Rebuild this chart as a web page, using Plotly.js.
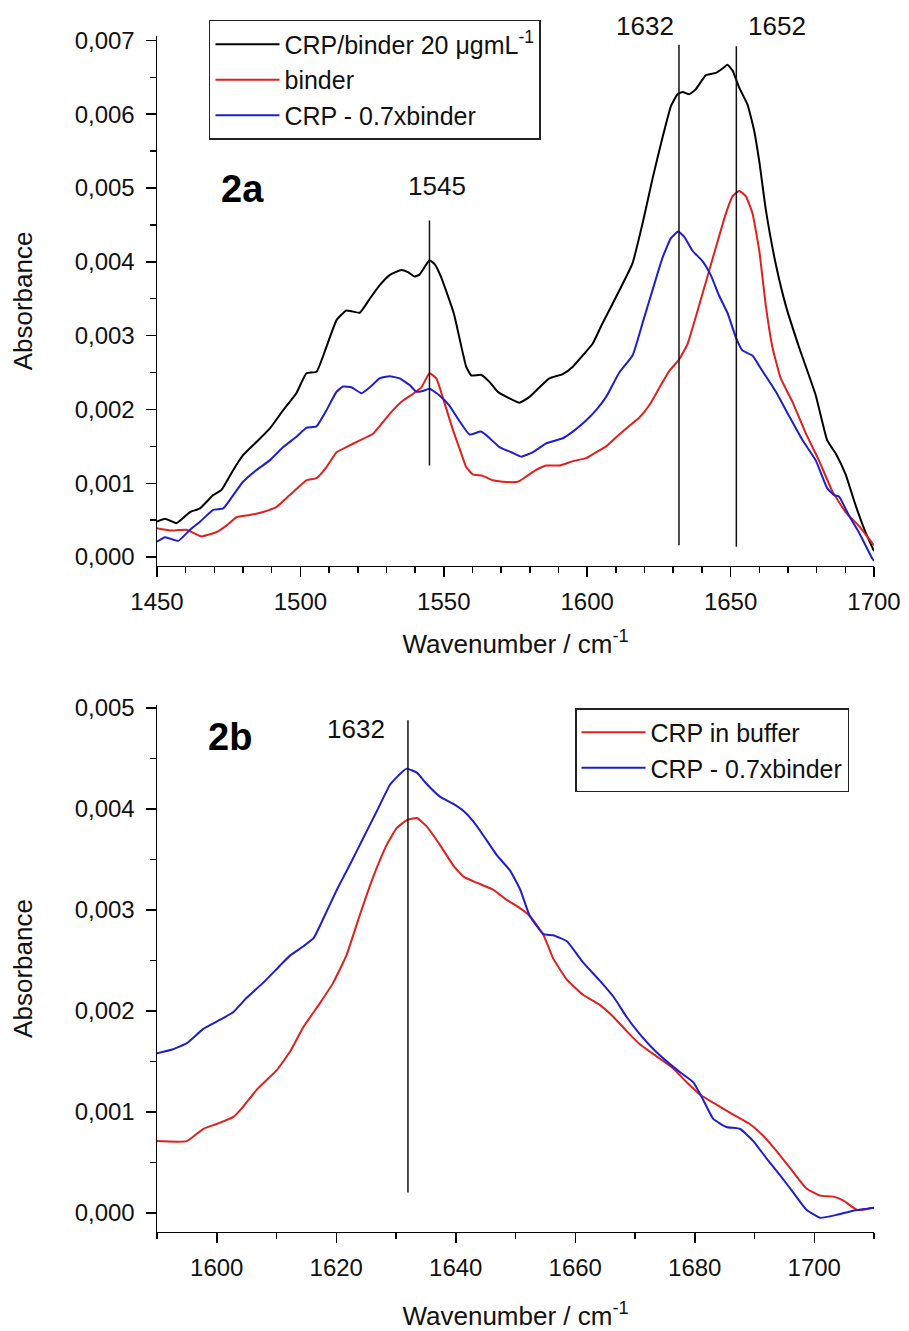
<!DOCTYPE html>
<html>
<head>
<meta charset="utf-8">
<script src="https://cdn.plot.ly/plotly-3.0.1.min.js"></script>
<style>
  html, body { margin: 0; padding: 0; background: #ffffff; }
  #chart { width: 909px; height: 1331px; }
</style>
</head>
<body>
<div id="chart"></div>
<script>
// ---------- Panel 2a data ----------
const aBlackX = [1450,1452.8,1456.8,1461.5,1465,1469.6,1472.5,1476.6,1480,1484.7,1489.3,1494,1498.6,1502.1,1505.6,1509.1,1512.6,1516,1517.8,1520.7,1524.2,1527.6,1531.1,1535.2,1537.5,1539.8,1541.6,1545,1546.8,1549,1553.5,1557.8,1559.6,1563,1566,1568.8,1572.9,1576.4,1579.9,1583.4,1586.8,1591.5,1595,1598.4,1601.9,1605,1610,1615.8,1619.3,1622.8,1626.3,1629.2,1631.5,1633.3,1635.6,1637.9,1641.4,1644.9,1647.2,1648.9,1650.7,1653,1655.9,1658.2,1660,1662.3,1665.8,1669.3,1673.9,1679.7,1683.7,1686.7,1690.1,1693.6,1697.1,1700];
const aBlackY = [0.00048,0.00052,0.00046,0.00061,0.00066,0.00084,0.00091,0.00118,0.00138,0.00156,0.00174,0.00199,0.00222,0.00249,0.00251,0.00285,0.00321,0.00334,0.00333,0.00331,0.00350,0.00368,0.00382,0.00389,0.00386,0.00380,0.00383,0.00402,0.00397,0.00380,0.00330,0.00258,0.00246,0.00247,0.00237,0.00224,0.00215,0.00209,0.00217,0.00230,0.00242,0.00248,0.00258,0.00273,0.00289,0.00314,0.00352,0.00398,0.00452,0.00513,0.00569,0.00611,0.00627,0.00630,0.00627,0.00634,0.00653,0.00656,0.00662,0.00667,0.00659,0.00636,0.00613,0.00578,0.00536,0.00470,0.00396,0.00340,0.00284,0.00219,0.00158,0.00140,0.00112,0.00070,0.00033,0.00008];

const aRedX = [1450,1454.5,1460.3,1465.5,1470.8,1474.3,1477.7,1482.4,1487,1491.7,1496.3,1502.1,1505.6,1509.1,1512.6,1516,1520.7,1525.3,1528.8,1532.3,1535.8,1539.2,1542.2,1545,1547.4,1549.5,1553.2,1555.5,1557.8,1560.1,1563.6,1567.1,1570.6,1575.8,1578.7,1582.2,1585.7,1590.3,1595,1599.6,1603.1,1606.6,1610,1613.5,1618.2,1621.7,1625.1,1628.6,1632.1,1635,1637.9,1641.4,1644.9,1648.4,1650.7,1653,1655.3,1657.6,1660,1662.3,1664.6,1667.5,1671.6,1676.2,1680.8,1685.5,1690.1,1694.8,1699.4,1700];
const aRedY = [0.00039,0.00036,0.00037,0.00028,0.00034,0.00043,0.00054,0.00057,0.00061,0.00068,0.00084,0.00104,0.00107,0.00122,0.00142,0.00149,0.00158,0.00167,0.00183,0.00199,0.00212,0.00221,0.00230,0.00249,0.00242,0.00218,0.00172,0.00147,0.00122,0.00112,0.00110,0.00104,0.00102,0.00102,0.00109,0.00118,0.00124,0.00124,0.00130,0.00134,0.00142,0.00150,0.00162,0.00174,0.00189,0.00206,0.00229,0.00252,0.00268,0.00289,0.00326,0.00373,0.00420,0.00466,0.00489,0.00496,0.00489,0.00466,0.00415,0.00340,0.00284,0.00242,0.00210,0.00168,0.00131,0.00089,0.00061,0.00042,0.00019,0.00016];

const aBlueX = [1450,1452.8,1457.4,1461.5,1465,1469.6,1473.1,1476.6,1480,1484.7,1489.3,1494,1498.6,1502.1,1505.6,1509.1,1512.6,1514.9,1517.8,1521.3,1524.2,1527.6,1531.1,1534.6,1538.1,1540.4,1542.7,1545,1548.5,1552,1555.5,1559,1563,1566,1569.4,1573.5,1577,1581,1585.7,1591.5,1595,1599.6,1603.1,1606.6,1611.2,1615.8,1619.3,1622.8,1626.3,1629.2,1631.7,1633.8,1636.7,1640.2,1643.1,1646,1648.9,1651.8,1654.1,1657.6,1661.1,1665.8,1670.4,1675,1679.7,1683.7,1686.1,1687.8,1691.3,1694.8,1699.4,1700];
const aBlueY = [0.00021,0.00027,0.00022,0.00037,0.00048,0.00064,0.00066,0.00084,0.00102,0.00118,0.00131,0.00149,0.00163,0.00175,0.00177,0.00199,0.00224,0.00231,0.00230,0.00222,0.00230,0.00242,0.00245,0.00242,0.00233,0.00224,0.00225,0.00228,0.00219,0.00205,0.00184,0.00166,0.00170,0.00161,0.00149,0.00142,0.00136,0.00142,0.00154,0.00161,0.00170,0.00185,0.00199,0.00217,0.00250,0.00273,0.00317,0.00362,0.00406,0.00432,0.00441,0.00434,0.00415,0.00401,0.00382,0.00354,0.00331,0.00298,0.00280,0.00273,0.00252,0.00224,0.00191,0.00159,0.00131,0.00093,0.00084,0.00082,0.00056,0.00033,-0.00002,-0.00005];

// ---------- Panel 2b data ----------
const bRedX = [1590,1595,1597.7,1600,1602.8,1604.4,1606.7,1610,1612.3,1614.5,1617.3,1619.5,1621.7,1624,1626.2,1628.4,1630.1,1631.8,1633.5,1635.1,1637.4,1639.6,1641.3,1643.5,1646.3,1648.5,1650.2,1652.4,1654.7,1656.3,1658.6,1661.3,1664.1,1666.4,1668.6,1670.8,1673.6,1676.4,1678.7,1680.9,1683.7,1686.5,1689.2,1691.5,1693.7,1696,1698.7,1701,1703.2,1704.9,1707.1,1708.2,1710];
const bRedY = [0.00071,0.00071,0.00083,0.00088,0.00095,0.00105,0.00122,0.00141,0.00160,0.00184,0.00208,0.00228,0.00255,0.00296,0.00333,0.00364,0.00381,0.00389,0.00391,0.00383,0.00364,0.00344,0.00333,0.00327,0.00320,0.00310,0.00304,0.00294,0.00275,0.00252,0.00231,0.00216,0.00206,0.00194,0.00180,0.00167,0.00155,0.00143,0.00129,0.00117,0.00107,0.00097,0.00088,0.00076,0.00061,0.00044,0.00024,0.00017,0.00016,0.00012,0.00003,0.00003,0.00005];

const bBlueX = [1590,1592.7,1595,1597.7,1600.5,1602.8,1605,1607.8,1610.6,1612.3,1614.5,1616.2,1617.8,1620.1,1622.3,1624.5,1626.8,1629,1630.7,1631.8,1633.5,1635.1,1637.4,1639.6,1641.3,1642.9,1644.6,1646.9,1649.1,1650.8,1652.4,1654.7,1656.3,1658.6,1661.3,1664.1,1666.4,1668.6,1670.8,1673.1,1675.3,1677.6,1679.8,1681.4,1683.1,1685.3,1687.6,1689.8,1692,1694.3,1696.5,1698.7,1701,1703.8,1706.5,1710];
const bBlueY = [0.00158,0.00162,0.00168,0.00182,0.00191,0.00199,0.00213,0.00228,0.00245,0.00255,0.00264,0.00272,0.00291,0.00320,0.00345,0.00371,0.00398,0.00424,0.00435,0.00440,0.00436,0.00425,0.00412,0.00405,0.00398,0.00388,0.00374,0.00354,0.00339,0.00320,0.00294,0.00276,0.00275,0.00269,0.00248,0.00230,0.00214,0.00194,0.00177,0.00162,0.00150,0.00139,0.00129,0.00112,0.00093,0.00085,0.00083,0.00071,0.00054,0.00037,0.00020,0.00003,-0.00005,-0.00002,0.00002,0.00005];

// ---------- Labels / markers ----------
const seriesNamesA = ['CRP/binder 20 \u03bcgmL<sup>-1</sup>', 'binder', 'CRP - 0.7xbinder'];
const seriesNamesB = ['CRP in buffer', 'CRP - 0.7xbinder'];
const peakLinesA = [1545, 1632, 1652];
const peakLinesAFrom = [0.00124, 0.00016, 0.00014];
const peakLinesATo = [0.00456, 0.00694, 0.00692];
const peakLabelsA = ['1545', '1632', '1652'];
const peakLabelsAX = [1547.7, 1620, 1666.2];
// label heights as a fraction of the panel's y domain (two sit above the plot area)
const peakLabelsAYFrac = [0.716, 1.018, 1.018];
const peakLinesB = [1632];
const peakLinesBFrom = [0.00020];
const peakLinesBTo = [0.00488];
const peakLabelsB = ['1632'];
const peakLabelsBX = [1623.3];
const peakLabelsBYFrac = [0.955];

const COLORS = { black: '#000000', red: '#e0201e', blue: '#1e1ecc' };
const FONT = 'Liberation Sans, Arial, Helvetica, sans-serif';

function line(x, y, name, color, xa, ya, legend) {
  return { x: x, y: y, name: name, type: 'scatter', mode: 'lines',
    line: { color: color, width: 2, shape: 'spline', smoothing: 0.4 },
    xaxis: xa, yaxis: ya, legend: legend, hoverinfo: 'skip' };
}

const traces = [
  line(aBlackX, aBlackY, seriesNamesA[0], COLORS.black, 'x', 'y', 'legend'),
  line(aRedX, aRedY, seriesNamesA[1], COLORS.red, 'x', 'y', 'legend'),
  line(aBlueX, aBlueY, seriesNamesA[2], COLORS.blue, 'x', 'y', 'legend'),
  line(bRedX, bRedY, seriesNamesB[0], COLORS.red, 'x2', 'y2', 'legend2'),
  line(bBlueX, bBlueY, seriesNamesB[1], COLORS.blue, 'x2', 'y2', 'legend2')
];

const shapes = [];
peakLinesA.forEach((x, i) => shapes.push({ type: 'line', xref: 'x', yref: 'y',
  x0: x, x1: x, y0: peakLinesAFrom[i], y1: peakLinesATo[i], line: { color: '#111', width: 1.5 } }));
peakLinesB.forEach((x, i) => shapes.push({ type: 'line', xref: 'x2', yref: 'y2',
  x0: x, x1: x, y0: peakLinesBFrom[i], y1: peakLinesBTo[i], line: { color: '#111', width: 1.5 } }));

const annotations = [];
peakLabelsA.forEach((t, i) => annotations.push({ text: t, xref: 'x', yref: 'y domain',
  x: peakLabelsAX[i], y: peakLabelsAYFrac[i], xanchor: 'center', yanchor: 'middle',
  showarrow: false, font: { size: 26, color: '#111' } }));
peakLabelsB.forEach((t, i) => annotations.push({ text: t, xref: 'x2', yref: 'y2 domain',
  x: peakLabelsBX[i], y: peakLabelsBYFrac[i], xanchor: 'center', yanchor: 'middle',
  showarrow: false, font: { size: 26, color: '#111' } }));
annotations.push({ text: '<b>2a</b>', xref: 'x', yref: 'y domain', x: 1479.8, y: 0.711,
  xanchor: 'center', yanchor: 'middle', showarrow: false, font: { size: 38, color: '#000' } });
annotations.push({ text: '<b>2b</b>', xref: 'x2', yref: 'y2 domain', x: 1602.2, y: 0.940,
  xanchor: 'center', yanchor: 'middle', showarrow: false, font: { size: 38, color: '#000' } });

function xAxis(range, dtick, tick0, minor, anchor, standoff) {
  return { range: range, dtick: dtick, tick0: tick0, anchor: anchor,
    showgrid: false, zeroline: false, showline: true, linecolor: '#000', linewidth: 1.5,
    ticks: 'outside', ticklen: 10, tickwidth: 1.5, tickcolor: '#000',
    minor: { dtick: minor, ticks: 'outside', ticklen: 6, tickwidth: 1.5, tickcolor: '#000', showgrid: false },
    tickfont: { size: 24, color: '#111' }, ticklabelstandoff: 4,
    title: { text: 'Wavenumber / cm<sup>-1</sup>', font: { size: 26, color: '#111' }, standoff: standoff } };
}
function yAxis(range, domain, anchor) {
  return { range: range, domain: domain, anchor: anchor, dtick: 0.001, tick0: 0, tickformat: '.3f',
    showgrid: false, zeroline: false, showline: true, linecolor: '#000', linewidth: 1.5,
    ticks: 'outside', ticklen: 10, tickwidth: 1.5, tickcolor: '#000',
    minor: { dtick: 0.0005, ticks: 'outside', ticklen: 6, tickwidth: 1.5, tickcolor: '#000', showgrid: false },
    tickfont: { size: 24, color: '#111' }, ticklabelstandoff: 6,
    title: { text: 'Absorbance', font: { size: 26, color: '#111' }, standoff: 34 } };
}

const layout = {
  width: 909, height: 1331,
  margin: { l: 157, r: 35, t: 0, b: 0 },
  paper_bgcolor: '#ffffff', plot_bgcolor: '#ffffff',
  separators: ',.',
  font: { family: FONT, color: '#111' },
  xaxis: xAxis([1450, 1700], 50, 1450, 10, 'y', 20),
  yaxis: yAxis([-0.00012, 0.00706], [0.5748, 0.9730], 'x'),
  xaxis2: xAxis([1590, 1710], 20, 1600, 10, 'y2', 28),
  yaxis2: yAxis([-0.00019, 0.00503], [0.0744, 0.4703], 'x2'),
  legend: { x: 0.0725, y: 0.985, xanchor: 'left', yanchor: 'top', bgcolor: '#ffffff',
    bordercolor: '#222', borderwidth: 1.5, font: { size: 25, color: '#111' }, itemwidth: 64,
    tracegroupgap: 0 },
  legend2: { x: 0.583, y: 0.468, xanchor: 'left', yanchor: 'top', bgcolor: '#ffffff',
    bordercolor: '#222', borderwidth: 1.5, font: { size: 25, color: '#111' }, itemwidth: 64,
    tracegroupgap: 0 },
  showlegend: true,
  shapes: shapes,
  annotations: annotations
};

Plotly.newPlot('chart', traces, layout, { staticPlot: true, displayModeBar: false });
</script>
</body>
</html>
